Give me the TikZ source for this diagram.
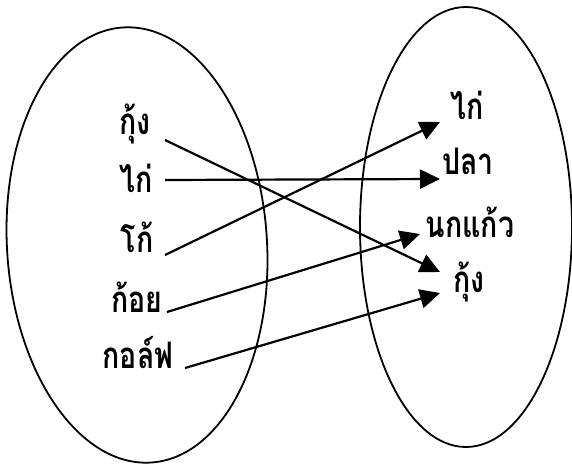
\documentclass[tikz,border=0pt]{standalone}
\usepackage{fontspec}
\newfontfamily\thaifont[Script=Thai]{Loma}
\usetikzlibrary{arrows.meta,calc}
\newcommand{\tw}[1]{\scalebox{0.95}[1.22]{#1}}
\begin{document}
\begin{tikzpicture}[x=1pt,y=-1pt,
  word/.style={font=\thaifont\bfseries\fontsize{30}{36}\selectfont, inner sep=0pt, anchor=base},
  arr/.style={line width=2.2pt, -{Triangle[length=20pt,width=19pt]}},
  oval/.style={line width=1.8pt}]
\useasboundingbox (0,0) rectangle (572,465);
\draw[oval, rotate around={3.7:(137,245)}] (137,245) ellipse [x radius=130pt, y radius=218pt];
\draw[oval] (466,227) ellipse [x radius=106pt, y radius=220pt];
\node[word] (Lkung) at (135,135) {\tw{กุ้ง}};
\node[word] (Lkai) at (136,192) {\tw{ไก่}};
\node[word] (Lko) at (137,252) {\tw{โก้}};
\node[word] (Lkoy) at (137,312) {\tw{ก้อย}};
\node[word] (Lgolf) at (138,368) {\tw{กอล์ฟ}};
\node[word] (Rkai) at (467,120) {\tw{ไก่}};
\node[word] (Rpla) at (468,175) {\tw{ปลา}};
\node[word] (Rnok) at (470,237) {\tw{นกแก้ว}};
\node[word] (Rkung) at (469,292) {\tw{กุ้ง}};
\draw[arr] ($(Lkung.base)+(30,5)$) -- ($(Rkung.base)+(-29,-20)$);
\draw[arr] ($(Lkai.base)+(29,-12)$) -- ($(Rpla.base)+(-28,4)$);
\draw[arr] ($(Lko.base)+(28,3)$) -- ($(Rkai.base)+(-27,2)$);
\draw[arr] ($(Lkoy.base)+(30,0)$) -- ($(Rnok.base)+(-50,-3)$);
\draw[arr] ($(Lgolf.base)+(47,0)$) -- ($(Rkung.base)+(-29,1)$);
\end{tikzpicture}
\end{document}
